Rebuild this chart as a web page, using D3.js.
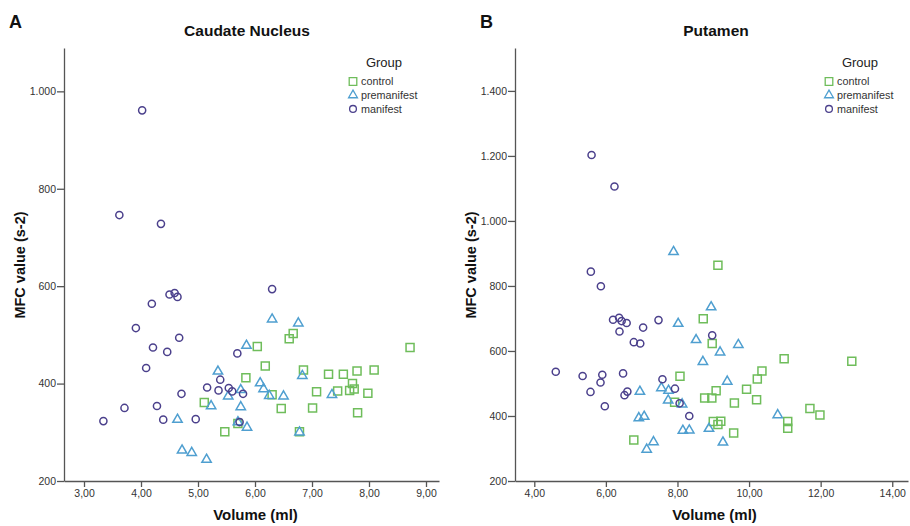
<!DOCTYPE html>
<html>
<head>
<meta charset="utf-8">
<script src="https://cdn.jsdelivr.net/npm/d3@7"></script>
<style>
  body { margin: 0; background: #fff; }
  svg { display: block; font-family: "Liberation Sans", Arial, sans-serif; }
  .tick text { fill: #333; }
  .domain, .tick line { stroke: #555; }
</style>
</head>
<body>
<svg id="chart" width="910" height="526"></svg>
<script>
// values: [volume (ml), MFC value]
var caudateControl = [
  [8.72,474],[6.67,503],[6.60,492],[6.04,476],[6.18,436],[5.84,412],[6.85,428],[7.29,419],
  [7.55,419],[7.79,426],[8.09,428],[7.71,400],[7.74,389],[7.66,386],[7.45,385],[7.08,383],
  [7.98,380],[6.30,377],[5.11,361],[7.01,350],[6.46,349],[7.80,340],[5.47,301],[6.78,301],[5.70,318]
];
var caudatePremanifest = [
  [6.30,532],[6.76,524],[5.85,478],[5.35,425],[6.83,416],[6.09,401],[6.15,389],[5.75,387],
  [5.53,374],[6.25,375],[6.50,374],[7.35,377],[5.23,354],[5.75,352],[4.64,326],[5.70,321],
  [5.86,310],[6.78,300],[4.72,263],[4.89,258],[5.15,244]
];
var caudateManifest = [
  [4.02,961],[3.62,746],[4.35,728],[4.50,583],[4.59,586],[4.64,578],[4.19,564],[6.30,594],
  [3.91,514],[4.67,494],[4.21,474],[4.46,465],[5.69,462],[4.09,432],[5.39,408],[5.16,392],
  [5.36,386],[5.54,391],[5.60,384],[5.79,379],[4.71,379],[4.28,354],[3.71,350],[3.34,323],
  [4.39,326],[4.96,327],[5.73,321]
];

var putamenControl = [
  [9.13,864],[8.72,699],[8.97,623],[10.98,576],[12.87,568],[10.36,538],[10.23,514],[8.07,522],
  [9.93,482],[9.08,478],[8.96,455],[8.76,455],[7.92,442],[10.21,450],[9.59,440],[11.70,423],
  [11.98,403],[11.08,383],[11.08,362],[9.00,383],[9.21,384],[9.13,374],[9.57,348],[6.78,326]
];
var putamenPremanifest = [
  [7.89,905],[8.94,735],[8.02,684],[8.52,634],[9.70,619],[9.19,596],[8.71,567],[9.39,506],
  [7.55,486],[7.75,478],[6.95,475],[7.74,448],[8.13,436],[6.92,394],[7.07,398],[8.15,355],
  [8.33,356],[8.88,361],[10.80,403],[7.33,320],[7.14,297],[9.27,319]
];
var putamenManifest = [
  [5.60,1203],[6.24,1106],[5.58,844],[5.86,799],[6.20,696],[6.37,702],[6.44,692],[6.58,686],
  [6.38,660],[7.04,672],[7.47,695],[6.78,627],[6.96,623],[8.97,648],[4.60,536],[5.35,523],
  [5.90,527],[6.48,531],[5.85,503],[5.57,474],[6.60,475],[6.52,464],[5.97,430],[7.58,513],
  [7.93,484],[8.06,439],[8.33,400]
];

var groupNames = ['control', 'premanifest', 'manifest'];
var caudateXTicks = [3, 4, 5, 6, 7, 8, 9];
var caudateYTicks = [200, 400, 600, 800, 1000];
var putamenXTicks = [4, 6, 8, 10, 12, 14];
var putamenYTicks = [200, 400, 600, 800, 1000, 1200, 1400];

var colors = ['#6fbd5b', '#4f9fd0', '#4b408c'];
var symbols = [d3.symbolSquare, d3.symbolTriangle, d3.symbolCircle];
var sizes = [64, 38, 40];

// decimal comma, dot for thousands
var locale = d3.formatLocale({decimal: ',', thousands: '.', grouping: [3], currency: ['', '']});
var fmtX = locale.format('.2f');
var fmtY = locale.format(',d');

var svg = d3.select('#chart');

function drawPanel(p) {
  var g = svg.append('g');

  var x = d3.scaleLinear().domain(p.xDomain).range([p.left, p.right]);
  var y = d3.scaleLinear().domain(p.yDomain).range([p.bottom, p.top]);

  g.append('g')
    .attr('transform', 'translate(0,' + p.bottom + ')')
    .call(d3.axisBottom(x).tickValues(p.xTicks).tickFormat(fmtX).tickSizeInner(6).tickSizeOuter(0).tickPadding(3));
  g.append('g')
    .attr('transform', 'translate(' + p.left + ',0)')
    .call(d3.axisLeft(y).tickValues(p.yTicks).tickFormat(fmtY).tickSizeInner(7).tickSizeOuter(0).tickPadding(1));
  g.selectAll('.domain').attr('stroke-width', 1.3);
  g.selectAll('.tick line').attr('stroke-width', 1.3);
  g.selectAll('.tick text').style('font-size', '10.5px');

  p.series.forEach(function(s, i) {
    g.append('g').selectAll('path')
      .data(s)
      .enter().append('path')
      .attr('d', d3.symbol().type(symbols[i]).size(sizes[i]))
      .attr('transform', function(d) { return 'translate(' + x(d[0]) + ',' + y(d[1]) + ')'; })
      .attr('fill', 'none')
      .attr('stroke', colors[i])
      .attr('stroke-width', 1.5);
  });

  // titles
  g.append('text').attr('x', p.letterX).attr('y', 28)
    .style('font-size', '18px').style('font-weight', 'bold').attr('fill', '#111').text(p.letter);
  g.append('text').attr('x', p.titleX).attr('y', 36).attr('text-anchor', 'middle')
    .style('font-size', '15.5px').style('font-weight', 'bold').attr('fill', '#111').text(p.title);
  g.append('text').attr('x', (p.left + p.right) / 2 + p.xLabelShift).attr('y', 520).attr('text-anchor', 'middle')
    .style('font-size', '15px').style('font-weight', 'bold').attr('fill', '#111').text('Volume (ml)');
  g.append('text')
    .attr('transform', 'translate(' + p.yLabelX + ',265) rotate(-90)')
    .attr('text-anchor', 'middle')
    .style('font-size', '14.5px').style('font-weight', 'bold').attr('fill', '#111').text('MFC value (s-2)');

  // legend
  var lg = g.append('g').attr('transform', 'translate(' + p.legendX + ',0)');
  lg.append('text').attr('x', 31).attr('y', 67).attr('text-anchor', 'middle')
    .style('font-size', '13px').attr('fill', '#222').text('Group');
  groupNames.forEach(function(name, i) {
    var yy = 81.5 + i * 13.7;
    lg.append('path')
      .attr('d', d3.symbol().type(symbols[i]).size(sizes[i] * 0.9))
      .attr('transform', 'translate(0,' + yy + ')')
      .attr('fill', 'none').attr('stroke', colors[i]).attr('stroke-width', 1.3);
    lg.append('text').attr('x', 8).attr('y', yy + 3.8)
      .style('font-size', '10.8px').attr('fill', '#333').text(name);
  });
}

drawPanel({
  left: 64, right: 439, top: 48, bottom: 481,
  xDomain: [2.649, 9.228], yDomain: [200, 1089],
  xTicks: caudateXTicks, yTicks: caudateYTicks,
  series: [caudateControl, caudatePremanifest, caudateManifest],
  letter: 'A', letterX: 9, title: 'Caudate Nucleus', titleX: 247,
  xLabelShift: 4, yLabelX: 25, legendX: 353
});

drawPanel({
  left: 515, right: 908, top: 48, bottom: 481,
  xDomain: [3.461, 14.44], yDomain: [200, 1532],
  xTicks: putamenXTicks, yTicks: putamenYTicks,
  series: [putamenControl, putamenPremanifest, putamenManifest],
  letter: 'B', letterX: 480, title: 'Putamen', titleX: 716,
  xLabelShift: 3, yLabelX: 476, legendX: 829
});
</script>
</body>
</html>
